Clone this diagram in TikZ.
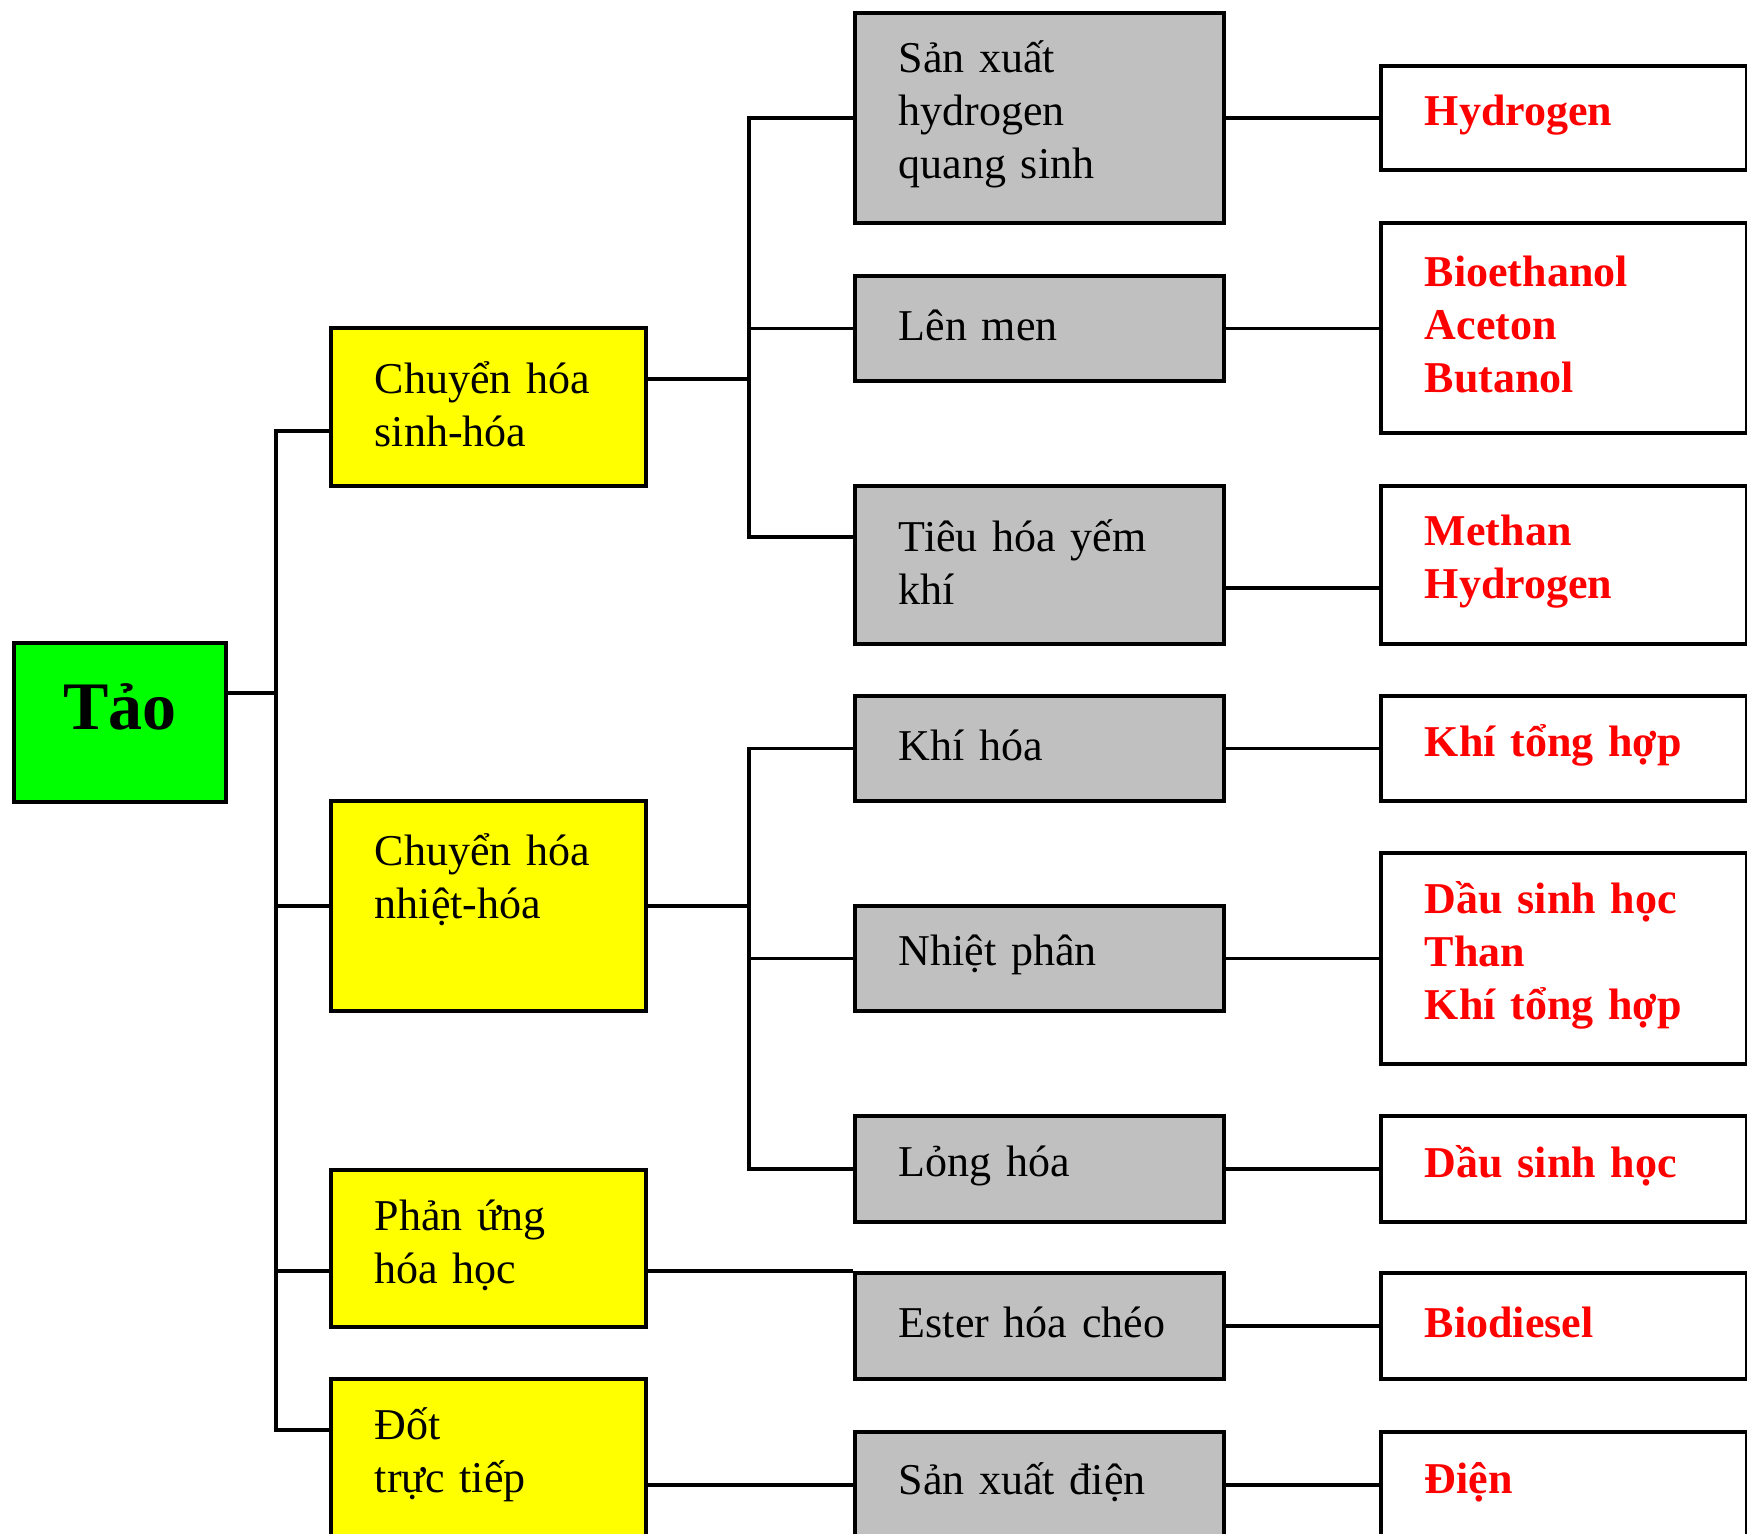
\documentclass[tikz,border=0pt]{standalone}
\usepackage{fontspec}
\setmainfont{Liberation Serif}
\usepackage{xcolor}
\usetikzlibrary{positioning}

\definecolor{taogreen}{RGB}{0,255,0}
\definecolor{stepyellow}{RGB}{255,255,0}
\definecolor{procgray}{RGB}{192,192,192}
\definecolor{prodred}{RGB}{255,0,0}

\tikzset{
  cellbox/.style={draw, line width=1.8pt, anchor=north west, inner xsep=22pt, inner ysep=0pt,
    align=left, font=\fontsize{22}{26.5}\selectfont, execute at end node={\vspace{3pt}}},
  rootbox/.style={draw, line width=1.8pt, anchor=north west, fill=taogreen, minimum width=106pt,
    font=\fontsize{34}{40}\selectfont\bfseries, text height=20pt, text depth=12.5pt},
  ybox/.style={cellbox, fill=stepyellow, minimum width=157.5pt, text width=113.5pt},
  gbox/.style={cellbox, fill=procgray, minimum width=184.5pt, text width=140.5pt},
  rbox/.style={cellbox, fill=white, minimum width=183pt, text width=139pt, text=prodred,
    font=\fontsize{22}{26.5}\selectfont\bfseries},
  link/.style={line width=1.8pt},
}

\begin{document}
\begin{tikzpicture}[x=0.5pt, y=-0.5pt]
\clip (0,0) rectangle (1747,1533);

% root
\node[rootbox, minimum height=79.5pt] (tao) at (12,641) {Tảo};

% conversion routes
\node[ybox, minimum height=79pt] (sinh) at (329,326) {Chuyển hóa\\sinh-hóa};
\node[ybox, minimum height=105pt] (nhiet) at (329,799) {Chuyển hóa\\nhiệt-hóa\\\mbox{}};
\node[ybox, minimum height=78.5pt] (phan) at (329,1168) {Phản ứng\\hóa học};
\node[ybox, minimum height=79pt] (dot) at (329,1377) {Đốt\\trực tiếp};

% processes
\node[gbox, minimum height=105pt] (sxh) at (853,11) {Sản xuất\\hydrogen\\quang sinh};
\node[gbox, minimum height=52.5pt] (lenmen) at (853,274) {Lên men};
\node[gbox, minimum height=79pt] (tieuhoa) at (853,484) {Tiêu hóa yếm\\khí};
\node[gbox, minimum height=52.5pt] (khihoa) at (853,694) {Khí hóa};
\node[gbox, minimum height=52.5pt] (nhietphan) at (853,904) {Nhiệt phân};
\node[gbox, minimum height=53pt] (longhoa) at (853,1114) {Lỏng hóa};
\node[gbox, minimum height=53pt] (ester) at (853,1271) {Ester hóa chéo};
\node[gbox, minimum height=53pt] (sxd) at (853,1430) {Sản xuất điện};

% products
\node[rbox, minimum height=52pt] (r1) at (1379,64) {Hydrogen};
\node[rbox, minimum height=105pt] (r2) at (1379,221) {Bioethanol\\Aceton\\Butanol};
\node[rbox, minimum height=79pt] (r3) at (1379,484) {Methan\\Hydrogen};
\node[rbox, minimum height=52.5pt] (r4) at (1379,694) {Khí tổng hợp};
\node[rbox, minimum height=105.5pt] (r5) at (1379,851) {Dầu sinh học\\Than\\Khí tổng hợp};
\node[rbox, minimum height=53pt] (r6) at (1379,1114) {Dầu sinh học};
\node[rbox, minimum height=53pt] (r7) at (1379,1271) {Biodiesel};
\node[rbox, minimum height=53pt] (r8) at (1379,1430) {Điện};

% junctions
\coordinate (j-tao) at (276,693);
\coordinate (j-sinh) at (276,431);
\coordinate (j-phan) at (276,1271);
\coordinate (j-dot) at (276,1430);
\coordinate (a-sinh) at (749,379);
\coordinate (a-tieu) at (749,537);
\coordinate (c-tieu) at (1300,588);

% trunk
\draw[link] (tao.east |- j-tao) -- (j-tao);
\draw[link] (sinh.west |- j-sinh) -| (j-dot) -- (dot.west |- j-dot);
\draw[link] (nhiet.west) -- (j-sinh |- nhiet.west);
\draw[link] (phan.west |- j-phan) -- (j-phan);

% second level
\draw[link] (sinh.east |- a-sinh) -- (a-sinh);
\draw[link] (sxh.west) -| (a-tieu) -- (tieuhoa.west |- a-tieu);
\draw[link] (lenmen.west) -- (a-tieu |- lenmen.west);
\draw[link] (nhiet.east) -- (a-tieu |- nhiet.east);
\draw[link] (khihoa.west) -| (a-tieu |- longhoa.west) -- (longhoa.west);
\draw[link] (nhietphan.west) -- (a-tieu |- nhietphan.west);
\draw[link] (phan.east |- ester.north) -- (ester.north west);
\draw[link] (dot.east |- sxd.west) -- (sxd.west);

% to products
\draw[link] (sxh.east) -- (r1.west |- sxh.east);
\draw[link] (lenmen.east) -- (r2.west |- lenmen.east);
\draw[link] (tieuhoa.east |- c-tieu) -- (r3.west |- c-tieu);
\draw[link] (khihoa.east) -- (r4.west |- khihoa.east);
\draw[link] (nhietphan.east) -- (r5.west |- nhietphan.east);
\draw[link] (longhoa.east) -- (r6.west |- longhoa.east);
\draw[link] (ester.east) -- (r7.west |- ester.east);
\draw[link] (sxd.east) -- (r8.west |- sxd.east);
\end{tikzpicture}
\end{document}
